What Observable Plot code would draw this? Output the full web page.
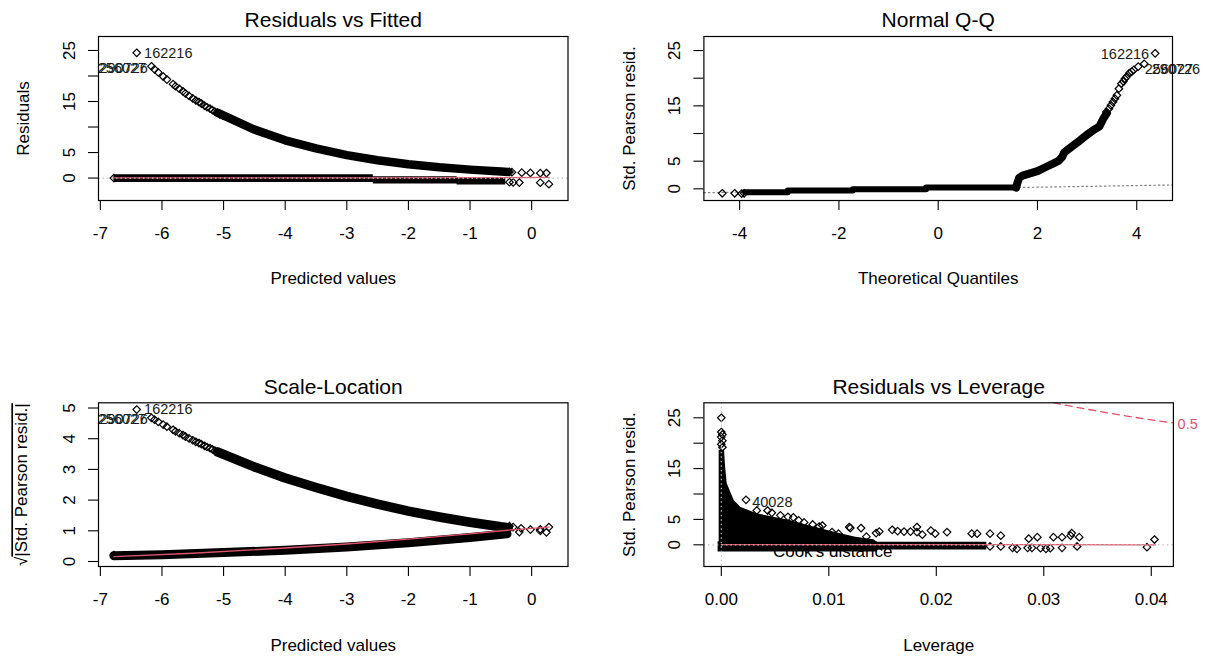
<!DOCTYPE html>
<html>
<head>
<meta charset="utf-8">
<script src="https://cdn.jsdelivr.net/npm/d3@7"></script>
<script src="https://cdn.jsdelivr.net/npm/@observablehq/plot@0.6"></script>
<style>
  html, body { margin: 0; padding: 0; background: #fff; }
  body { width: 1205px; height: 657px; position: relative; overflow: hidden; }
  .panel { position: absolute; }
</style>
</head>
<body>
<div class="panel" id="p1" style="left:0px;top:0px"></div>
<div class="panel" id="p2" style="left:603px;top:0px"></div>
<div class="panel" id="p3" style="left:0px;top:365px"></div>
<div class="panel" id="p4" style="left:603px;top:365px"></div>
<script>
// ---------------- texts ----------------
const titles  = ["Residuals vs Fitted", "Normal Q-Q", "Scale-Location", "Residuals vs Leverage"];
const xLabels = ["Predicted values", "Theoretical Quantiles", "Predicted values", "Leverage"];
const yLabels = ["Residuals", "Std. Pearson resid.", "√|Std. Pearson resid.|", "Std. Pearson resid."];

// ---------------- ticks ----------------
const fittedTicks = [-7, -6, -5, -4, -3, -2, -1, 0];
const residTicks  = [0, 5, 10, 15, 20, 25];
const residTickLabels = ["0", "5", "", "15", "", "25"];
const qqTicks     = [-4, -2, 0, 2, 4];
const scaleTicks  = [0, 1, 2, 3, 4, 5];
const levTicks    = [0, 0.01, 0.02, 0.03, 0.04];
const levTickLabels = ["0.00", "0.01", "0.02", "0.03", "0.04"];

// ---------------- Panel 1: Residuals vs Fitted ----------------
const rfUpSparseX = [-6.41, -6.17, -6.12, -6.06, -5.98, -5.92, -5.82, -5.78, -5.72, -5.66, -5.62, -5.56, -5.5, -5.45, -5.4, -5.36, -5.31, -5.27, -5.22, -5.18, -5.14, -5.1, -5.06, -5.02];
const rfUpSparseY = [24.55, 21.9, 21.3, 20.7, 19.9, 19.3, 18.4, 18.0, 17.5, 17.0, 16.6, 16.1, 15.6, 15.2, 14.9, 14.6, 14.2, 13.9, 13.6, 13.3, 13.0, 12.8, 12.5, 12.3];
const rfUpBandX = [-5.1, -4.5, -4.0, -3.5, -3.0, -2.5, -2.0, -1.5, -1.0, -0.5, -0.38];
const rfUpBandY = [12.8, 9.5, 7.4, 5.8, 4.5, 3.5, 2.7, 2.1, 1.65, 1.28, 1.2];
const rfLowBandX  = [-6.78, -2.57, -1.21, -0.42];
const rfLowBandLo = [-0.86, -1.18, -1.38, -1.38];
const rfLowBandHi = [0.65, 0.26, 0.0, 0.0];
const rfEndX = [-0.36, -0.32, -0.16, -0.02, 0.14, 0.24, -6.78, -0.36, -0.3, -0.2, 0.14, 0.28];
const rfEndY = [1.2, 1.15, 1.05, 1.0, 0.95, 0.98, 0.0, -0.8, -0.85, -0.88, -0.9, -1.2];
const rfSmoothX = [-6.78, -3.0, -1.0, -0.4, 0.28];
const rfSmoothY = [0.05, 0.05, 0.07, 0.1, 0.12];
const rfLabX = [-6.29, -6.256, -6.23];
const rfLabY = [24.4, 21.4, 21.5];
const rfLabT = ["162216", "256027", "290726"];

// ---------------- Panel 2: Normal Q-Q ----------------
const qqLeftX = [-4.35, -4.10, -3.96, -3.91];
const qqLeftY = [-0.8, -0.8, -0.85, -0.8];
const qqFlatX = [-3.89, -3.03, -1.72, -0.245, 1.57];
const qqFlatY = [-0.6, -0.3, -0.06, 0.23, 0.23];
const qqRiseX = [1.57, 1.6, 1.63, 1.7, 1.85, 2.0, 2.16, 2.3, 2.43, 2.5, 2.54, 2.7, 2.85, 3.0, 3.16, 3.25, 3.32, 3.4];
const qqRiseY = [0.23, 1.2, 2.0, 2.4, 2.8, 3.2, 3.9, 4.5, 5.1, 5.8, 6.6, 7.7, 8.7, 9.8, 10.8, 11.3, 12.6, 13.7];
const qqTopX = [3.39, 3.44, 3.48, 3.52, 3.56, 3.6, 3.64, 3.69, 3.73, 3.76, 3.8, 3.85, 3.9, 3.94, 4.03, 4.15, 4.37];
const qqTopY = [13.9, 14.5, 15.1, 15.7, 16.3, 16.9, 18.1, 19.0, 19.4, 19.9, 20.3, 20.9, 21.2, 21.5, 22.1, 22.6, 24.5];
const qqRefX = [-4.72, 4.72];
const qqRefY = [-0.7, 0.7];
const qqLabX = [4.25, 4.16, 4.3];
const qqLabY = [24.4, 21.6, 21.6];
const qqLabT = ["162216", "256027", "290726"];

// ---------------- Panel 3: Scale-Location ----------------
const slUpSparseX = rfUpSparseX;
const slUpSparseY = [4.95, 4.68, 4.62, 4.55, 4.46, 4.39, 4.29, 4.24, 4.18, 4.12, 4.07, 4.01, 3.95, 3.90, 3.86, 3.82, 3.77, 3.73, 3.69, 3.65, 3.61, 3.58, 3.54, 3.51];
const slUpBandX = [-5.1, -4.5, -4.0, -3.5, -3.0, -2.5, -2.0, -1.5, -1.0, -0.5, -0.38];
const slUpBandY = [3.57, 3.08, 2.72, 2.41, 2.12, 1.87, 1.64, 1.45, 1.28, 1.13, 1.10];
const slLowBandX = [-6.78, -6.0, -5.0, -4.0, -3.0, -2.0, -1.0, -0.4];
const slLowBandY = [0.19, 0.22, 0.29, 0.37, 0.47, 0.61, 0.78, 0.90];
const slEndX = [-0.36, -0.3, -0.17, -0.02, 0.14, 0.24, 0.28, -0.2, 0.14, -6.78];
const slEndY = [1.15, 1.12, 1.08, 1.04, 1.05, 0.95, 1.12, 0.96, 1.0, 0.21];
const slSmoothX = [-6.78, -5.5, -4.0, -3.0, -2.0, -1.0, -0.4, 0.28];
const slSmoothY = [0.16, 0.27, 0.44, 0.57, 0.73, 0.9, 1.02, 1.12];
const slLabX = [-6.29, -6.256, -6.23];
const slLabY = [4.95, 4.62, 4.63];
const slLabT = ["162216", "256027", "290726"];

// ---------------- Panel 4: Residuals vs Leverage ----------------
const lvCloudX  = [-0.0002, 0.0003, 0.0004, 0.00055, 0.0012, 0.0018, 0.0033, 0.0064, 0.0086, 0.0111, 0.0125, 0.0142, 0.0146];
const lvCloudHi = [18.6, 18.6, 15.3, 12.0, 8.7, 7.4, 6.1, 4.8, 3.5, 2.2, 1.5, 1.0, 0.3];
const lvBaseX  = [-0.0003, 0.0145, 0.0145, 0.0247];
const lvBaseLo = [-1.4, -1.4, -1.0, -1.0];
const lvBaseHi = [0.6, 0.6, 0.5, 0.5];
const lvPtsX = [0, 0, 0.0001, 0, 0.0001, 0, 0.0001, 0.0023, 0.0033, 0.0043, 0.0047, 0.0055, 0.0062, 0.0067, 0.0072, 0.0077, 0.0085, 0.0091, 0.0094, 0.0103, 0.0109, 0.0119, 0.0120, 0.0130, 0.0135, 0.0144, 0.0147, 0.0159, 0.0164, 0.0170, 0.0176, 0.0182, 0.0182, 0.0187, 0.0195, 0.0199, 0.0210, 0.0233, 0.0238, 0.0250, 0.0260, 0.0286, 0.0294, 0.0309, 0.0317, 0.0325, 0.0326, 0.0333, 0.0250, 0.0260, 0.0271, 0.0275, 0.0285, 0.0289, 0.0297, 0.0302, 0.0306, 0.0317, 0.0331, 0.0396, 0.0403];
const lvPtsY = [25.0, 22.2, 21.7, 21.2, 20.5, 19.8, 19.2, 8.85, 6.75, 6.75, 6.3, 5.8, 5.5, 5.4, 4.8, 4.4, 4.0, 3.6, 3.8, 2.5, 2.2, 3.5, 3.3, 3.3, 1.6, 2.3, 2.6, 2.95, 2.7, 2.6, 2.6, 3.5, 2.5, 2.0, 2.8, 2.2, 2.5, 2.2, 2.2, 2.2, 1.8, 1.2, 1.5, 1.5, 1.5, 1.8, 2.3, 1.5, -0.33, -0.33, -0.6, -0.8, -0.6, -0.6, -0.66, -0.8, -0.66, -0.6, -0.33, -0.47, 1.04];
const lvSmoothX = [0, 0.01, 0.02, 0.03, 0.0404];
const lvSmoothY = [0.05, 0.05, 0.03, 0.02, 0.0];
const cookX = [0.0309, 0.032, 0.034, 0.036, 0.038, 0.040, 0.042];
const cookY = [28.0, 27.5, 26.7, 25.95, 25.25, 24.6, 24.0];
const cookLabel = "0.5";
const cookLegend = "Cook's distance";
const lvLabT = ["40028"];

// ---------------- helpers ----------------
const FONT = '"Liberation Sans", Arial, Helvetica, sans-serif';
const RED = "#DF536B";
const GRAY = "#BEBEBE";
const pts = (xs, ys) => xs.map((x, i) => ({x, y: ys[i]}));
const band = (xs, lo, hi) => xs.map((x, i) => ({x, lo: lo[i], hi: hi[i]}));
const labs = (xs, ys, ts) => xs.map((x, i) => ({x, y: ys[i], t: ts[i]}));
const diamonds = (data) => Plot.dot(data, {x: "x", y: "y", symbol: "diamond2", r: 3.4, stroke: "black", fill: "none", strokeWidth: 1.2});

function chrome(i, xTicks, xFmt, yTicks, yFmt, ylabDx, xlabDy) {
  return [
    Plot.frame({stroke: "black", strokeWidth: 1.2}),
    Plot.axisX({ticks: xTicks, tickFormat: xFmt, tickSize: 10, tickPadding: 16, fontSize: 17, strokeWidth: 1.1, label: null}),
    Plot.axisY({ticks: yTicks, tickFormat: yFmt, tickSize: 10, tickPadding: 14, tickRotate: -90, fontSize: 17, strokeWidth: 1.1, label: null}),
    Plot.text([titles[i]], {text: d => d, frameAnchor: "top", dy: -16, fontSize: 21, textAnchor: "middle", lineAnchor: "middle"}),
    Plot.text([xLabels[i]], {text: d => d, frameAnchor: "bottom", dy: xlabDy, fontSize: 17, textAnchor: "middle", lineAnchor: "middle"}),
    Plot.text([yLabels[i]], {text: d => d, frameAnchor: "left", dx: ylabDx, rotate: -90, fontSize: 17, textAnchor: "middle", lineAnchor: "middle"})
  ];
}

function render(id, cfg) {
  const chart = Plot.plot({
    width: 602, height: 292,
    marginLeft: cfg.ml, marginRight: cfg.mr, marginTop: cfg.mt, marginBottom: cfg.mb,
    style: {fontFamily: FONT, fontSize: "17px", background: "white", overflow: "visible", color: "black"},
    x: {domain: cfg.xd},
    y: {domain: cfg.yd},
    marks: cfg.marks
  });
  document.getElementById(id).appendChild(chart);
  return chart;
}

const fmtPlain = d => String(d);
const fmtResid = d => residTickLabels[residTicks.indexOf(d)];
const fmtLev = d => levTickLabels[levTicks.findIndex(t => Math.abs(t - d) < 1e-9)];
const idText = (data, anchor) => Plot.text(data, {x: "x", y: "y", text: "t", textAnchor: anchor, fontSize: 14.5, fill: "#1a1a1a"});

// ---------------- Panel 1 ----------------
render("p1", {
  ml: 98, mr: 34.5, mt: 36, mb: 92,
  xd: [-7.03, 0.59], yd: [-4.4, 27.74],
  marks: [
    Plot.areaY(band(rfLowBandX, rfLowBandLo, rfLowBandHi), {x: "x", y1: "lo", y2: "hi", fill: "black", curve: "step-after"}),
    Plot.line(pts(rfUpBandX, rfUpBandY), {x: "x", y: "y", stroke: "black", strokeWidth: 8.5, strokeLinecap: "round"}),
    diamonds(pts(rfUpSparseX, rfUpSparseY)),
    diamonds(pts(rfEndX, rfEndY)),
    Plot.line(pts(rfSmoothX, rfSmoothY), {x: "x", y: "y", stroke: RED, strokeWidth: 1.3}),
    Plot.ruleY([0], {stroke: GRAY, strokeWidth: 1.2, strokeDasharray: "1.5,3"}),
    idText(labs(rfLabX.slice(0, 1), rfLabY.slice(0, 1), rfLabT.slice(0, 1)), "start"),
    idText(labs(rfLabX.slice(1), rfLabY.slice(1), rfLabT.slice(1)), "end"),
    ...chrome(0, fittedTicks, fmtPlain, residTicks, fmtResid, -74.6, 78)
  ]
});

// ---------------- Panel 2 ----------------
render("p2", {
  ml: 100.4, mr: 33, mt: 36, mb: 92,
  xd: [-4.72, 4.72], yd: [-2.11, 27.54],
  marks: [
    Plot.line(pts(qqRefX, qqRefY), {x: "x", y: "y", stroke: "#808080", strokeWidth: 1.2, strokeDasharray: "1.5,3"}),
    diamonds(pts(qqLeftX, qqLeftY)),
    Plot.line(pts(qqFlatX, qqFlatY), {x: "x", y: "y", stroke: "black", strokeWidth: 6, curve: "step-after"}),
    Plot.line(pts(qqRiseX, qqRiseY), {x: "x", y: "y", stroke: "black", strokeWidth: 8, strokeLinejoin: "round"}),
    diamonds(pts(qqTopX, qqTopY)),
    idText(labs(qqLabX.slice(0, 1), qqLabY.slice(0, 1), qqLabT.slice(0, 1)), "end"),
    idText(labs(qqLabX.slice(1), qqLabY.slice(1), qqLabT.slice(1)), "start"),
    ...chrome(1, qqTicks, fmtPlain, residTicks, fmtResid, -74.4, 77.7)
  ]
});

// ---------------- Panel 3 ----------------
const c3 = render("p3", {
  ml: 98, mr: 34.5, mt: 37.3, mb: 91,
  xd: [-7.03, 0.59], yd: [-0.163, 5.17],
  marks: [
    Plot.line(pts(slLowBandX, slLowBandY), {x: "x", y: "y", stroke: "black", strokeWidth: 9}),
    Plot.line(pts(slUpBandX, slUpBandY), {x: "x", y: "y", stroke: "black", strokeWidth: 9.5, strokeLinecap: "round"}),
    diamonds(pts(slUpSparseX, slUpSparseY)),
    diamonds(pts(slEndX, slEndY)),
    Plot.line(pts(slSmoothX, slSmoothY), {x: "x", y: "y", stroke: RED, strokeWidth: 1.4}),
    idText(labs(slLabX.slice(0, 1), slLabY.slice(0, 1), slLabT.slice(0, 1)), "start"),
    idText(labs(slLabX.slice(1), slLabY.slice(1), slLabT.slice(1)), "end"),
    ...chrome(2, fittedTicks, fmtPlain, scaleTicks, fmtPlain, -76.6, 79)
  ]
});

// ---------------- Panel 4 ----------------
render("p4", {
  ml: 100.4, mr: 32.1, mt: 37.3, mb: 91,
  xd: [-0.00162, 0.04206], yd: [-4.27, 27.95],
  marks: [
    Plot.text([{x: 0.0048, y: -1.3, t: cookLegend}], {x: "x", y: "y", text: "t", textAnchor: "start", fontSize: 17}),
    Plot.areaY(band(lvBaseX, lvBaseLo, lvBaseHi), {x: "x", y1: "lo", y2: "hi", fill: "black"}),
    Plot.areaY(lvCloudX.map((x, i) => ({x, hi: lvCloudHi[i]})), {x: "x", y1: 0, y2: "hi", fill: "black"}),
    diamonds(pts(lvPtsX, lvPtsY)),
    Plot.line(pts(lvSmoothX, lvSmoothY), {x: "x", y: "y", stroke: RED, strokeWidth: 1.3}),
    Plot.ruleY([0], {stroke: GRAY, strokeWidth: 1.2, strokeDasharray: "1.5,3"}),
    Plot.ruleX([0], {stroke: GRAY, strokeWidth: 1.2, strokeDasharray: "1.5,3"}),
    Plot.line(pts(cookX, cookY), {x: "x", y: "y", stroke: RED, strokeWidth: 1.3, strokeDasharray: "7,5"}),
    Plot.text([{x: 0.04245, y: 23.8, t: cookLabel}], {x: "x", y: "y", text: "t", textAnchor: "start", fontSize: 14.5, fill: RED}),
    idText([{x: 0.00287, y: 8.4, t: lvLabT[0]}], "start"),
    ...chrome(3, levTicks, fmtLev, residTicks, fmtResid, -74.4, 79)
  ]
});

// overline for the sqrt label in panel 3
c3.querySelectorAll("text").forEach(t => {
  if (t.textContent === yLabels[2]) {
    t.textContent = "";
    const ns = "http://www.w3.org/2000/svg";
    const a = document.createElementNS(ns, "tspan");
    a.textContent = "√";
    const b = document.createElementNS(ns, "tspan");
    b.textContent = "|Std. Pearson resid.|";
    b.setAttribute("style", "text-decoration: overline");
    t.appendChild(a); t.appendChild(b);
  }
});
</script>
</body>
</html>
